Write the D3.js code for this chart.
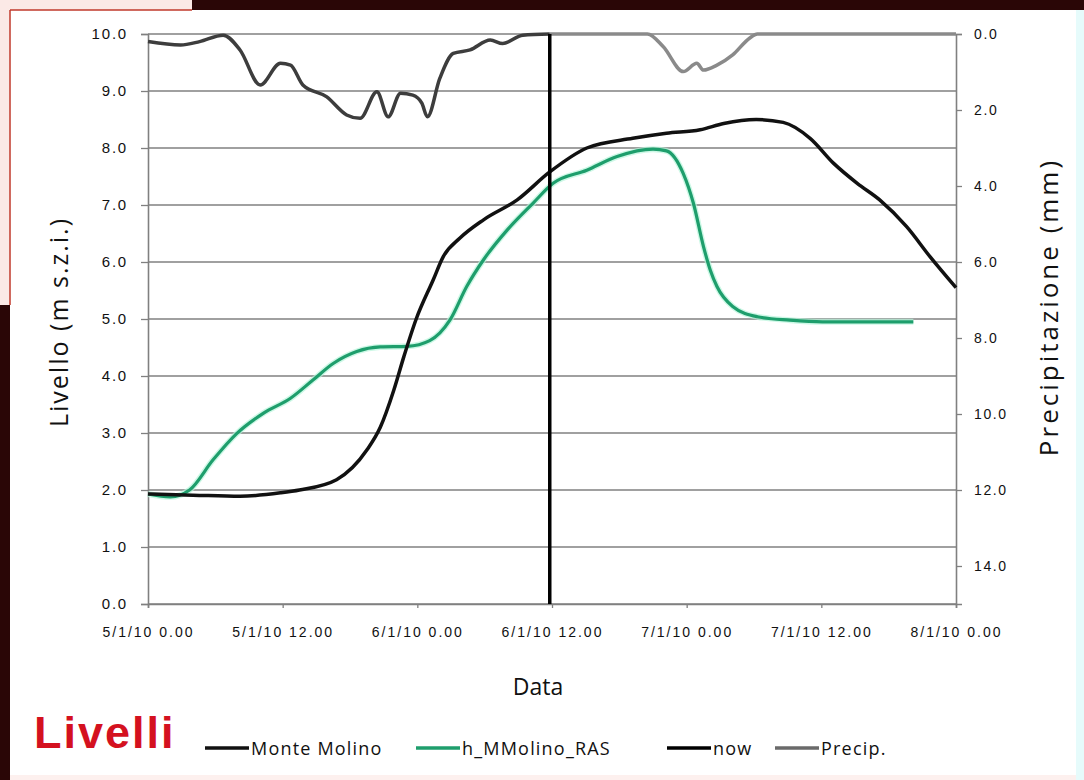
<!DOCTYPE html>
<html>
<head>
<meta charset="utf-8">
<script src="https://cdn.jsdelivr.net/npm/d3@7"></script>
<style>
	body { margin: 0; background: #fff; }
	svg { display: block; font-family: 'Open Sans', 'Liberation Sans', sans-serif; }
</style>
</head>
<body>
<div id="chart"></div>
<script>
// hours from 5/1/10 0.00
const tickLabels = ['5/1/10 0.00', '5/1/10 12.00', '6/1/10 0.00', '6/1/10 12.00', '7/1/10 0.00', '7/1/10 12.00', '8/1/10 0.00'];
const tickHours = [0, 12, 24, 36, 48, 60, 72];
const nowHour = 35.8;

const molinoHours = [0, 4, 8.2, 11.8, 13.5, 16.8, 19.5, 20.7, 21.9, 22.8, 23.9, 25.4, 26.3, 27.8, 29.9, 32.9, 35.8, 39.1, 43.2, 46.2, 49.2, 51.3, 54.2, 56.6, 59.0, 61.1, 63.2, 65.2, 67.6, 69.7, 72];
const molinoLevels = [1.93, 1.91, 1.89, 1.95, 2.0, 2.18, 2.7, 3.1, 3.75, 4.34, 5.0, 5.68, 6.09, 6.42, 6.74, 7.09, 7.58, 8.0, 8.17, 8.26, 8.32, 8.43, 8.5, 8.45, 8.17, 7.73, 7.38, 7.09, 6.62, 6.09, 5.55];

const rasHours = [0, 2.0, 3.7, 5.8, 7.9, 10.3, 12.7, 14.7, 16.5, 18.6, 20.7, 23.1, 25.1, 26.9, 28.4, 29.9, 32.0, 34.3, 36.1, 39.1, 41.8, 45.0, 46.2, 47.7, 48.6, 49.5, 50.1, 50.7, 52.1, 54.3, 57.2, 60.1, 68.2];
const rasLevels = [1.93, 1.88, 2.0, 2.53, 2.99, 3.35, 3.61, 3.93, 4.22, 4.43, 4.51, 4.52, 4.62, 4.98, 5.57, 6.04, 6.56, 7.03, 7.38, 7.61, 7.85, 7.98, 7.95, 7.55, 7.03, 6.27, 5.86, 5.57, 5.22, 5.04, 4.98, 4.95, 4.95];

const precipHours = [0, 2.9, 4.6, 6.7, 8.2, 10.0, 11.8, 12.7, 13.8, 15.9, 17.7, 18.9, 20.4, 21.4, 22.5, 23.6, 24.4, 24.9, 26.0, 27.2, 28.7, 30.5, 31.6, 33.4, 35.8, 44.5, 45.9, 47.7, 48.9, 49.5, 50.7, 52.1, 53.6, 54.3, 72];
const precipValues = [0.2, 0.29, 0.2, 0.03, 0.42, 1.34, 0.77, 0.82, 1.34, 1.65, 2.13, 2.22, 1.52, 2.18, 1.56, 1.61, 1.82, 2.18, 1.17, 0.51, 0.42, 0.16, 0.25, 0.03, 0.0, 0, 0.33, 0.99, 0.77, 0.95, 0.82, 0.55, 0.11, 0, 0];

const levelTicks = d3.range(0, 10.5, 1);
const precipTicks = d3.range(0, 15, 2);

const width = 1084, height = 780;
const margin = {top: 34, left: 148, right: 128, bottom: 176};

const svg = d3.select('#chart').append('svg')
	.attr('width', width)
	.attr('height', height);

// bits of the surrounding windows
svg.append('rect').attr('x', 0).attr('y', 0).attr('width', 192).attr('height', 10).attr('fill', '#fbe9e6');
svg.append('rect').attr('x', 192).attr('y', 0).attr('width', width - 192).attr('height', 10).attr('fill', '#2a0606');
svg.append('rect').attr('x', 0).attr('y', 10).attr('width', 10).attr('height', 295).attr('fill', '#fbe9e6');
svg.append('rect').attr('x', 0).attr('y', 305).attr('width', 10).attr('height', height - 305).attr('fill', '#2a0606');
svg.append('line').attr('x1', 10).attr('x2', 192).attr('y1', 10).attr('y2', 10).attr('stroke', '#c0392b').attr('stroke-width', 1.5);
svg.append('line').attr('x1', 10).attr('x2', 10).attr('y1', 10).attr('y2', 305).attr('stroke', '#c0392b').attr('stroke-width', 1.5);
svg.append('rect').attr('x', 1076).attr('y', 10).attr('width', 8).attr('height', height - 10).attr('fill', '#e6fbfb');
svg.append('rect').attr('x', 10).attr('y', 775).attr('width', 1066).attr('height', 5).attr('fill', '#fdf0ee');

const x = d3.scaleLinear().domain([0, 72]).range([margin.left, width - margin.right]);
const y = d3.scaleLinear().domain([0, 10]).range([height - margin.bottom, margin.top]);
const yP = d3.scaleLinear().domain([0, 15]).range([margin.top, height - margin.bottom]);

// gridlines
svg.append('g')
	.selectAll('line')
	.data(levelTicks)
	.enter()
	.append('line')
	.attr('x1', margin.left).attr('x2', width - margin.right)
	.attr('y1', (d)=>y(d)).attr('y2', (d)=>y(d))
	.attr('stroke', '#808080').attr('stroke-width', 1.6);

// axes
const leftAxis = svg.append('g')
	.attr('transform', `translate(${margin.left},0)`)
	.call(d3.axisLeft(y).tickValues(levelTicks).tickFormat(d3.format('.1f')).tickSize(7).tickPadding(13));
const rightAxis = svg.append('g')
	.attr('transform', `translate(${width - margin.right},0)`)
	.call(d3.axisRight(yP).tickValues(precipTicks).tickFormat(d3.format('.1f')).tickSize(6).tickPadding(12));
const bottomAxis = svg.append('g')
	.attr('transform', `translate(0,${height - margin.bottom})`)
	.call(d3.axisBottom(x).tickValues(tickHours).tickFormat((d, i)=>tickLabels[i]).tickSize(4).tickPadding(19));

[leftAxis, rightAxis, bottomAxis].forEach((axis)=>{
	axis.select('.domain').attr('stroke', '#808080').attr('stroke-width', 1.6);
	axis.selectAll('.tick line').attr('stroke', '#808080').attr('stroke-width', 1.3);
	axis.selectAll('.tick text')
		.attr('fill', '#111')
		.attr('font-size', 14)
		.attr('letter-spacing', 2)
		.attr('font-family', "'Liberation Sans', sans-serif");
});
leftAxis.selectAll('.tick text').attr('font-size', 15).attr('letter-spacing', 1.8);
rightAxis.selectAll('.tick text').attr('font-size', 14).attr('letter-spacing', 1.6);

// series
const lineLevel = d3.line().x((d)=>x(d[0])).y((d)=>y(d[1])).curve(d3.curveMonotoneX);
const linePrecip = d3.line().x((d)=>x(d[0])).y((d)=>yP(d[1])).curve(d3.curveMonotoneX);

const precipPoints = d3.zip(precipHours, precipValues);
svg.append('path')
	.datum(precipPoints.filter((p)=>p[0] <= nowHour))
	.attr('d', linePrecip)
	.attr('fill', 'none').attr('stroke', '#3d3d3d').attr('stroke-width', 3.5);
svg.append('path')
	.datum(precipPoints.filter((p)=>p[0] >= nowHour))
	.attr('d', linePrecip)
	.attr('fill', 'none').attr('stroke', '#8a8a8a').attr('stroke-width', 3.5);

svg.append('path')
	.datum(d3.zip(rasHours, rasLevels))
	.attr('d', lineLevel)
	.attr('fill', 'none').attr('stroke', '#b8f5dc').attr('stroke-width', 6).attr('stroke-opacity', 0.7);
svg.append('path')
	.datum(d3.zip(rasHours, rasLevels))
	.attr('d', lineLevel)
	.attr('fill', 'none').attr('stroke', '#1e9e6c').attr('stroke-width', 3.2);

svg.append('path')
	.datum(d3.zip(molinoHours, molinoLevels))
	.attr('d', lineLevel)
	.attr('fill', 'none').attr('stroke', '#111').attr('stroke-width', 3.5);

// now
svg.append('line')
	.attr('x1', x(nowHour)).attr('x2', x(nowHour))
	.attr('y1', y(10)).attr('y2', y(0))
	.attr('stroke', '#000').attr('stroke-width', 3.5);

// axis titles
svg.append('text')
	.attr('transform', `translate(68,${(y(10) + y(0)) / 2 + 3}) rotate(-90)`)
	.attr('text-anchor', 'middle')
	.attr('font-size', 25).attr('letter-spacing', 2).attr('fill', '#111')
	.text('Livello (m s.z.i.)');
svg.append('text')
	.attr('transform', `translate(1058,${(y(10) + y(0)) / 2 - 12}) rotate(-90)`)
	.attr('text-anchor', 'middle')
	.attr('font-size', 26).attr('letter-spacing', 3).attr('fill', '#111')
	.text('Precipitazione (mm)');
svg.append('text')
	.attr('x', 538).attr('y', 695)
	.attr('text-anchor', 'middle')
	.attr('font-size', 23).attr('fill', '#111')
	.text('Data');

// title-ish label
svg.append('text')
	.attr('x', 34).attr('y', 748)
	.attr('font-size', 45).attr('font-weight', 'bold').attr('letter-spacing', 2)
	.attr('font-family', "'Liberation Sans', Arial, sans-serif")
	.attr('fill', '#d4111f')
	.text('Livelli');

// legend
const legendItems = [
	{name: 'Monte Molino', color: '#111', x: 205},
	{name: 'h_MMolino_RAS', color: '#1e9e6c', x: 416},
	{name: 'now', color: '#000', x: 667},
	{name: 'Precip.', color: '#6a6a6a', x: 775}
];
const legend = svg.append('g')
	.selectAll('g')
	.data(legendItems)
	.enter()
	.append('g')
	.attr('transform', (d)=>`translate(${d.x},748)`);
legend.append('line')
	.attr('x1', 0).attr('x2', 44)
	.attr('stroke', (d)=>d.color).attr('stroke-width', 3.5);
legend.append('text')
	.attr('x', 46).attr('y', 7)
	.attr('font-size', 18).attr('letter-spacing', 1.2).attr('fill', '#111')
	.text((d)=>d.name);
</script>
</body>
</html>
